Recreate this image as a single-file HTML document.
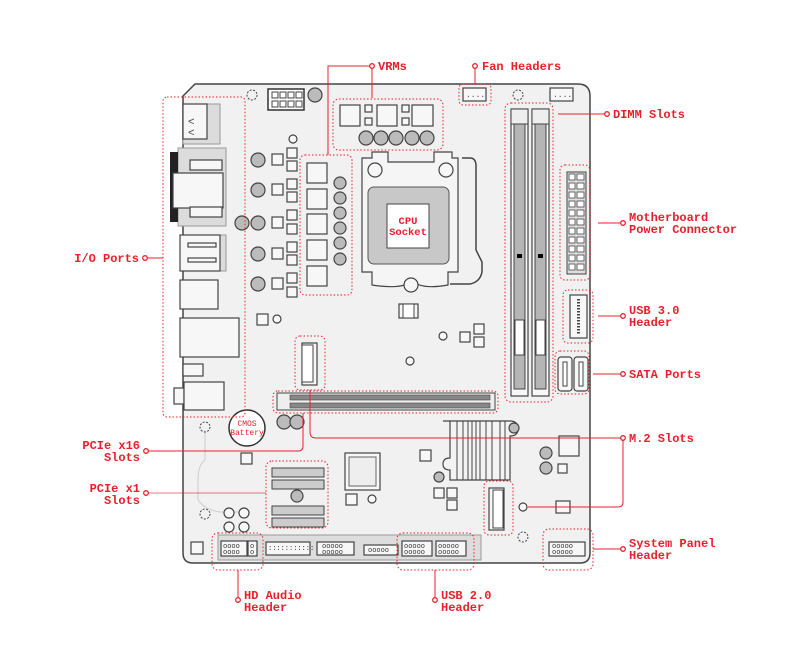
<!DOCTYPE html>
<html><head><meta charset="utf-8"><style>
html,body{margin:0;padding:0;background:#fff;}
svg{display:block}
.l{font-family:"Liberation Mono",monospace;font-weight:bold;font-size:12px;fill:#e8202c}
.d{fill:none;stroke:#e8202c;stroke-width:1;stroke-dasharray:1.5 2;}
.r{stroke:#e8202c;stroke-width:1;fill:none}
.c{fill:#f7f7f7;stroke:#444;stroke-width:1.2}
.g{fill:#dcdcdc;stroke:#999;stroke-width:1}
.k{fill:#bbb;stroke:#444;stroke-width:1.2}
.dot{fill:#fff;stroke:#e8202c;stroke-width:1.3}
</style></head><body>
<svg width="807" height="671" viewBox="0 0 807 671" xmlns="http://www.w3.org/2000/svg">
<path d="M195 84 H578 Q590 84 590 96 V553 Q590 563 580 563 H193 Q183 563 183 553 V96 Z" fill="#f1f1f1" stroke="#444" stroke-width="1.5"/>
<path d="M205 430 V460 Q198 465 198 480 V500 Q205 510 220 512 H250" fill="none" stroke="#ccc" stroke-width="1"/>
<rect x="183" y="104" width="37" height="40" class="g"/>
<rect x="183" y="104" width="24" height="35" class="c"/>
<text x="188" y="125" font-family="Liberation Mono" font-size="11" fill="#444">&lt;</text>
<text x="188" y="136" font-family="Liberation Mono" font-size="11" fill="#444">&lt;</text>
<rect x="178" y="148" width="48" height="78" class="g"/>
<rect x="170" y="152" width="8" height="70" fill="#222"/>
<rect x="173" y="173" width="50" height="35" class="c"/>
<rect x="190" y="160" width="32" height="10" class="c"/>
<rect x="190" y="207" width="32" height="10" class="c"/>
<rect x="180" y="235" width="46" height="36" class="g"/>
<rect x="180" y="235" width="40" height="36" class="c"/>
<rect x="188" y="243" width="28" height="4" class="c"/><rect x="188" y="258" width="28" height="4" class="c"/>
<rect x="180" y="280" width="38" height="29" class="c"/>
<rect x="180" y="318" width="59" height="39" class="c"/>
<rect x="183" y="364" width="20" height="12" class="c"/>
<rect x="174" y="388" width="10" height="16" class="c"/>
<rect x="184" y="382" width="40" height="28" class="c"/>
<circle cx="252" cy="95" r="5" fill="none" stroke="#444" stroke-dasharray="2 1.5"/>
<rect x="268" y="89" width="36" height="21" fill="#fff" stroke="#333" stroke-width="1.5"/>
<g fill="#fff" stroke="#444"><rect x="272" y="92" width="6" height="6"/><rect x="280" y="92" width="6" height="6"/><rect x="288" y="92" width="6" height="6"/><rect x="296" y="92" width="6" height="6"/><rect x="272" y="101" width="6" height="6"/><rect x="280" y="101" width="6" height="6"/><rect x="288" y="101" width="6" height="6"/><rect x="296" y="101" width="6" height="6"/></g>
<circle cx="315" cy="95" r="7" class="k"/>
<circle cx="293" cy="139" r="4" class="c"/>
<g class="k"><circle cx="258" cy="160" r="7"/><circle cx="258" cy="190" r="7"/><circle cx="258" cy="223" r="7"/><circle cx="242" cy="223" r="7"/><circle cx="258" cy="254" r="7"/><circle cx="258" cy="284" r="7"/></g>
<g class="c"><rect x="272" y="154" width="11" height="11"/><rect x="272" y="184" width="11" height="11"/><rect x="272" y="217" width="11" height="11"/><rect x="272" y="248" width="11" height="11"/><rect x="272" y="278" width="11" height="11"/>
<rect x="287" y="148" width="10" height="10"/><rect x="287" y="161" width="10" height="10"/><rect x="287" y="179" width="10" height="10"/><rect x="287" y="192" width="10" height="10"/><rect x="287" y="210" width="10" height="10"/><rect x="287" y="224" width="10" height="10"/><rect x="287" y="242" width="10" height="10"/><rect x="287" y="255" width="10" height="10"/><rect x="287" y="273" width="10" height="10"/><rect x="287" y="287" width="10" height="10"/>
<rect x="257" y="314" width="11" height="11"/></g>
<circle cx="277" cy="319" r="4" class="c"/>
<rect x="300" y="155" width="52" height="140" rx="5" class="d"/>
<g class="c"><rect x="307" y="163" width="20" height="20"/><rect x="307" y="189" width="20" height="20"/><rect x="307" y="214" width="20" height="20"/><rect x="307" y="240" width="20" height="20"/><rect x="307" y="266" width="20" height="20"/></g>
<g class="k"><circle cx="340" cy="183" r="6"/><circle cx="340" cy="198" r="6"/><circle cx="340" cy="213" r="6"/><circle cx="340" cy="228" r="6"/><circle cx="340" cy="243" r="6"/><circle cx="340" cy="259" r="6"/></g>
<rect x="333" y="99" width="110" height="51" rx="6" class="d"/>
<g class="c"><rect x="340" y="105" width="20" height="21"/><rect x="377" y="105" width="20" height="21"/><rect x="412" y="105" width="21" height="21"/><rect x="365" y="105" width="7" height="7"/><rect x="365" y="118" width="7" height="7"/><rect x="402" y="105" width="7" height="7"/><rect x="402" y="118" width="7" height="7"/></g>
<g class="k"><circle cx="366" cy="138" r="7"/><circle cx="381" cy="138" r="7"/><circle cx="396" cy="138" r="7"/><circle cx="412" cy="138" r="7"/><circle cx="427" cy="138" r="7"/></g>
<path d="M362 158 H372 V152 H388 V162 H434 V152 H452 V158 H458 V272 H448 V285 Q420 290 412 280 Q405 290 372 285 V272 H362 Z" fill="#f5f5f5" stroke="#444" stroke-width="1.2"/>
<circle cx="375" cy="170" r="7" class="c"/><circle cx="446" cy="170" r="7" class="c"/><circle cx="411" cy="285" r="7" class="c"/>
<rect x="368" y="187" width="81" height="77" rx="6" fill="#c8c8c8" stroke="#555"/>
<rect x="387" y="204" width="42" height="44" fill="#fff" stroke="#444"/>
<text x="408" y="224" text-anchor="middle" class="l" style="font-size:10.5px">CPU</text>
<text x="408" y="235" text-anchor="middle" class="l" style="font-size:10.5px">Socket</text>
<path d="M462 158 H470 Q476 158 476 166 V250 L482 262 V272 Q480 282 470 284 H450" fill="none" stroke="#444" stroke-width="1.5"/>
<rect x="399" y="304" width="19" height="14" class="c"/><rect x="403" y="304" width="11" height="14" fill="#fff" stroke="#444"/>
<circle cx="443" cy="336" r="4" class="c"/><circle cx="410" cy="361" r="4" class="c"/>
<g class="c"><rect x="460" y="332" width="10" height="10"/><rect x="474" y="324" width="10" height="10"/><rect x="474" y="337" width="10" height="10"/></g>
<rect x="459" y="84" width="32" height="21" rx="4" class="d"/>
<rect x="463" y="88" width="23" height="13" class="c"/><text x="466" y="97" font-size="8" font-family="Liberation Mono" fill="#444">....</text>
<rect x="550" y="88" width="23" height="13" class="c"/><text x="553" y="97" font-size="8" font-family="Liberation Mono" fill="#444">....</text>
<circle cx="518" cy="95" r="5" fill="none" stroke="#444" stroke-dasharray="2 1.5"/>
<rect x="505" y="103" width="48" height="299" rx="6" class="d"/>
<g><rect x="511" y="109" width="17" height="287" class="c"/><rect x="514" y="124" width="11" height="265" fill="#b5b5b5" stroke="#444"/><rect x="515" y="320" width="9" height="35" fill="#fff" stroke="#444"/>
<rect x="532" y="109" width="17" height="287" class="c"/><rect x="535" y="124" width="11" height="265" fill="#b5b5b5" stroke="#444"/><rect x="536" y="320" width="9" height="35" fill="#fff" stroke="#444"/>
<rect x="511" y="109" width="17" height="15" fill="#eee" stroke="#444"/><rect x="532" y="109" width="17" height="15" fill="#eee" stroke="#444"/>
<rect x="517" y="254" width="5" height="4" fill="#000"/><rect x="538" y="254" width="5" height="4" fill="#000"/></g>
<rect x="560" y="165" width="30" height="115" rx="5" class="d"/>
<rect x="567" y="172" width="19" height="102" fill="#ddd" stroke="#444"/>
<g fill="#fff" stroke="#444" stroke-width="0.8">
<rect x="569" y="174" width="6" height="6"/><rect x="577" y="174" width="7" height="6"/>
<rect x="569" y="183" width="6" height="6"/><rect x="577" y="183" width="7" height="6"/>
<rect x="569" y="192" width="6" height="6"/><rect x="577" y="192" width="7" height="6"/>
<rect x="569" y="201" width="6" height="6"/><rect x="577" y="201" width="7" height="6"/>
<rect x="569" y="210" width="6" height="6"/><rect x="577" y="210" width="7" height="6"/>
<rect x="569" y="219" width="6" height="6"/><rect x="577" y="219" width="7" height="6"/>
<rect x="569" y="228" width="6" height="6"/><rect x="577" y="228" width="7" height="6"/>
<rect x="569" y="237" width="6" height="6"/><rect x="577" y="237" width="7" height="6"/>
<rect x="569" y="246" width="6" height="6"/><rect x="577" y="246" width="7" height="6"/>
<rect x="569" y="255" width="6" height="6"/><rect x="577" y="255" width="7" height="6"/>
<rect x="569" y="264" width="6" height="6"/><rect x="577" y="264" width="7" height="6"/></g>
<rect x="563" y="290" width="30" height="53" rx="5" class="d"/>
<rect x="570" y="295" width="17" height="43" class="c"/>
<line x1="578.5" y1="299" x2="578.5" y2="334" stroke="#444" stroke-dasharray="1.5 1.5" stroke-width="3"/>
<rect x="555" y="351" width="34" height="43" rx="5" class="d"/>
<rect x="558" y="357" width="14" height="34" rx="3" class="c"/><rect x="563" y="362" width="4" height="24" fill="#fff" stroke="#444"/>
<rect x="574" y="357" width="14" height="34" rx="3" class="c"/><rect x="579" y="362" width="4" height="24" fill="#fff" stroke="#444"/>
<rect x="295" y="336" width="30" height="54" rx="5" class="d"/>
<rect x="302" y="343" width="15" height="42" class="c"/><rect x="302" y="345" width="11" height="37" fill="#fff" stroke="#444"/>
<rect x="273" y="391" width="225" height="22" rx="5" class="d"/>
<rect x="277" y="393" width="218" height="17" fill="#eee" stroke="#444"/>
<rect x="290" y="395" width="200" height="5" fill="#888" stroke="#444" stroke-width="0.6"/>
<rect x="290" y="403" width="200" height="5" fill="#888" stroke="#444" stroke-width="0.6"/>
<circle cx="247" cy="428" r="18" fill="#fff" stroke="#333" stroke-width="1.5"/>
<text x="247" y="426" text-anchor="middle" class="l" style="font-size:8px;font-weight:normal">CMOS</text>
<text x="247" y="435" text-anchor="middle" class="l" style="font-size:8px;font-weight:normal">Battery</text>
<circle cx="284" cy="422" r="7" class="k"/><circle cx="297" cy="422" r="7" class="k"/>
<rect x="241" y="453" width="11" height="11" class="c"/>
<circle cx="205" cy="427" r="5" fill="none" stroke="#444" stroke-dasharray="2 1.5"/>
<circle cx="205" cy="514" r="5" fill="none" stroke="#444" stroke-dasharray="2 1.5"/>
<g class="c"><circle cx="229" cy="513" r="5"/><circle cx="244" cy="513" r="5"/><circle cx="229" cy="527" r="5"/><circle cx="244" cy="527" r="5"/>
<rect x="191" y="542" width="12" height="12"/></g>
<rect x="266" y="461" width="62" height="67" rx="6" class="d"/>
<g><rect x="272" y="468" width="52" height="9" fill="#ccc" stroke="#444"/><rect x="272" y="480" width="52" height="9" fill="#ccc" stroke="#444"/>
<rect x="272" y="506" width="52" height="9" fill="#ccc" stroke="#444"/><rect x="272" y="518" width="52" height="9" fill="#ccc" stroke="#444"/></g>
<circle cx="297" cy="496" r="6" class="k"/>
<rect x="345" y="453" width="35" height="37" class="c"/><rect x="349" y="457" width="27" height="29" fill="#eee" stroke="#666"/>
<rect x="346" y="494" width="11" height="11" class="c"/><circle cx="372" cy="499" r="4" class="c"/>
<rect x="420" y="450" width="11" height="11" class="c"/>
<path d="M443 421 H510 Q518 421 518 429 Q518 436 510 436 V480 H450 V470 Q443 470 443 464 Q443 458 450 458 V421 Z" fill="#f3f3f3" stroke="#444" stroke-width="1.2"/>
<g stroke="#444" stroke-width="1"><line x1="457" y1="421" x2="457" y2="480"/><line x1="463" y1="421" x2="463" y2="480"/><line x1="468" y1="421" x2="468" y2="480"/><line x1="472" y1="421" x2="472" y2="480"/><line x1="476" y1="421" x2="476" y2="480"/><line x1="480" y1="421" x2="480" y2="480"/><line x1="486" y1="421" x2="486" y2="480"/><line x1="492" y1="421" x2="492" y2="480"/><line x1="500" y1="421" x2="500" y2="480"/><line x1="505" y1="421" x2="505" y2="480"/></g>
<circle cx="514" cy="428" r="5" class="k"/><circle cx="439" cy="477" r="5" class="k"/>
<g class="c"><rect x="434" y="488" width="10" height="10"/><rect x="447" y="488" width="10" height="10"/><rect x="447" y="500" width="10" height="10"/>
<rect x="559" y="436" width="20" height="20"/><rect x="558" y="464" width="9" height="9"/></g>
<circle cx="546" cy="453" r="6" class="k"/><circle cx="546" cy="468" r="6" class="k"/>
<rect x="484" y="481" width="29" height="54" rx="5" class="d"/>
<rect x="489" y="488" width="15" height="42" class="c"/><rect x="493" y="490" width="10" height="38" fill="#fff" stroke="#444"/>
<circle cx="523" cy="507" r="4" class="c"/>
<rect x="556" y="501" width="14" height="12" class="c"/>
<circle cx="523" cy="537" r="5" fill="none" stroke="#444" stroke-dasharray="2 1.5"/>
<rect x="218" y="535" width="263" height="25" fill="#ddd" stroke="#999"/>
<g class="c"><rect x="221" y="541" width="26" height="15"/><rect x="248" y="541" width="9" height="15"/><rect x="266" y="542" width="44" height="13"/><rect x="317" y="542" width="37" height="13"/><rect x="364" y="545" width="34" height="10"/><rect x="402" y="541" width="30" height="15"/><rect x="436" y="541" width="30" height="15"/><rect x="549" y="542" width="36" height="14"/></g>
<g font-family="Liberation Mono" font-size="7" fill="#333">
<text x="223" y="548">oooo</text><text x="223" y="554">oooo</text><text x="250" y="548">o</text><text x="250" y="554">o</text>
<text x="268" y="550">:::::::::::</text>
<text x="322" y="548">ooooo</text><text x="322" y="554">ooooo</text>
<text x="368" y="552">ooooo</text>
<text x="404" y="548">ooooo</text><text x="404" y="554">ooooo</text>
<text x="438" y="548">ooooo</text><text x="438" y="554">ooooo</text>
<text x="552" y="548">ooooo</text><text x="552" y="554">ooooo</text></g>
<rect x="212" y="533" width="51" height="37" rx="6" class="d"/>
<rect x="397" y="533" width="77" height="37" rx="6" class="d"/>
<rect x="543" y="529" width="50" height="41" rx="6" class="d"/>
<rect x="163" y="97" width="82" height="320" rx="4" class="d"/>
<path class="r" d="M328 155 V66 H372 M372 98 V66"/>
<circle cx="372" cy="66" r="2.3" class="dot"/>
<text x="378" y="70" class="l">VRMs</text>
<path class="r" d="M475 84 V66"/><circle cx="475" cy="66" r="2.3" class="dot"/>
<text x="482" y="70" class="l">Fan Headers</text>
<path class="r" d="M558 114 H607"/><circle cx="607" cy="114" r="2.3" class="dot"/>
<text x="613" y="118" class="l">DIMM Slots</text>
<path class="r" d="M598 223 H623"/><circle cx="623" cy="223" r="2.3" class="dot"/>
<text x="629" y="221" class="l">Motherboard</text><text x="629" y="233" class="l">Power Connector</text>
<path class="r" d="M598 316 H623"/><circle cx="623" cy="316" r="2.3" class="dot"/>
<text x="629" y="314" class="l">USB 3.0</text><text x="629" y="326" class="l">Header</text>
<path class="r" d="M593 374 H623"/><circle cx="623" cy="374" r="2.3" class="dot"/>
<text x="629" y="378" class="l">SATA Ports</text>
<path class="r" d="M310 390 V432 Q310 438 316 438 H623 M528 507 H618 Q623 507 623 502 V438"/><circle cx="623" cy="438" r="2.3" class="dot"/>
<text x="629" y="442" class="l">M.2 Slots</text>
<path class="r" d="M593 549 H623"/><circle cx="623" cy="549" r="2.3" class="dot"/>
<text x="629" y="547" class="l">System Panel</text><text x="629" y="559" class="l">Header</text>
<path class="r" d="M145 258 H163"/><circle cx="145" cy="258" r="2.3" class="dot"/>
<text x="139" y="262" text-anchor="end" class="l">I/O Ports</text>
<path class="r" d="M146 451 H298 Q303 451 303 446 V413"/><circle cx="146" cy="451" r="2.3" class="dot"/>
<text x="140" y="449" text-anchor="end" class="l">PCIe x16</text><text x="140" y="461" text-anchor="end" class="l">Slots</text>
<path class="r" d="M146 493 H266" stroke-opacity="0.6"/><circle cx="146" cy="493" r="2.3" class="dot"/>
<text x="140" y="492" text-anchor="end" class="l">PCIe x1</text><text x="140" y="504" text-anchor="end" class="l">Slots</text>
<path class="r" d="M238 570 V600"/><circle cx="238" cy="600" r="2.3" class="dot"/>
<text x="244" y="599" class="l">HD Audio</text><text x="244" y="611" class="l">Header</text>
<path class="r" d="M435 570 V600"/><circle cx="435" cy="600" r="2.3" class="dot"/>
<text x="441" y="599" class="l">USB 2.0</text><text x="441" y="611" class="l">Header</text>
</svg>
</body></html>
